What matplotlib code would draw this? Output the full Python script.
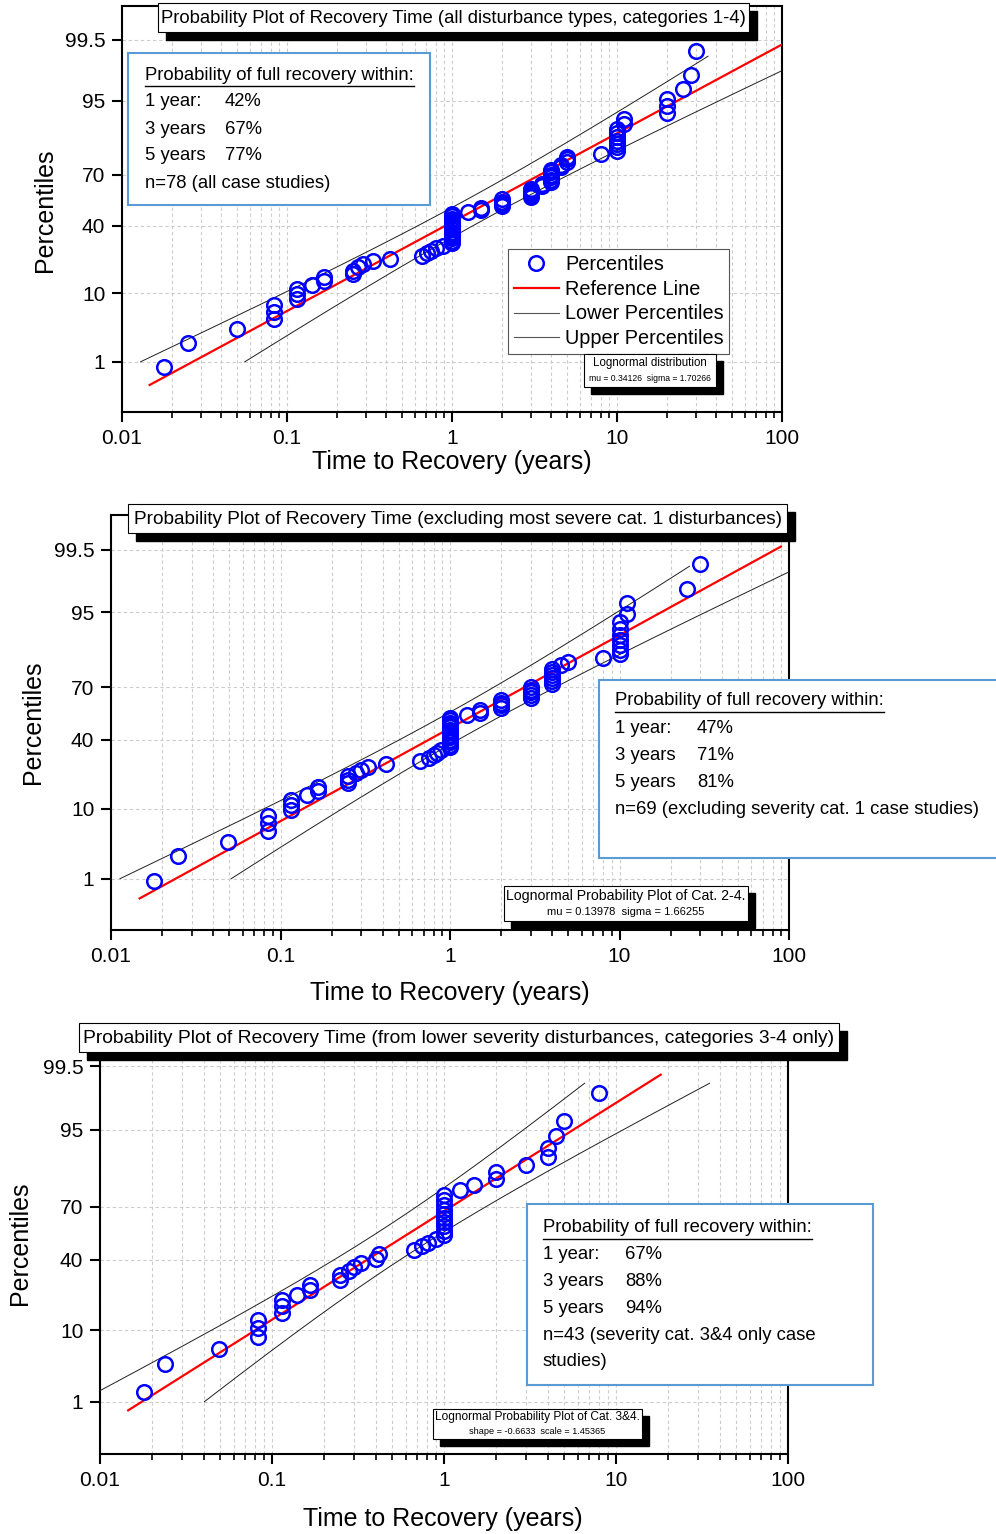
import math
from statistics import NormalDist
import numpy as np
import matplotlib
matplotlib.use('Agg')
import matplotlib.pyplot as plt
from matplotlib.patches import Rectangle
from matplotlib.lines import Line2D
from matplotlib.ticker import FixedLocator, FixedFormatter, LogLocator, NullFormatter

W, H = 996, 1534
ND = NormalDist()

# ---------------- data ----------------
# recovery times (years), panel 1: all case studies (n=78)
times_all = [0.018, 0.025, 0.05, 0.083, 0.083, 0.083, 0.115, 0.115, 0.115, 0.142,
             0.167, 0.167, 0.25, 0.25, 0.27, 0.29, 0.33, 0.42,
             0.66, 0.71, 0.75, 0.8, 0.88,
             1.0, 1.0, 1.0, 1.0, 1.0, 1.0, 1.0, 1.0, 1.0, 1.0, 1.0, 1.0, 1.0, 1.0,
             1.25, 1.5, 1.5, 2.0, 2.0, 2.0, 2.0, 3.0, 3.0, 3.0, 3.0, 3.0, 3.5, 3.5,
             4.0, 4.0, 4.0, 4.0, 4.0, 4.0, 4.6, 4.6, 5.0, 5.0, 5.0, 8.0,
             10.0, 10.0, 10.0, 10.0, 10.0, 10.0, 10.0, 11.0, 11.0,
             20.0, 20.0, 20.0, 25.0, 28.0, 30.0]
# panel 2: excluding severity cat. 1 (n=69)
times_cat24 = [0.018, 0.025, 0.049, 0.084, 0.084, 0.084, 0.116, 0.116, 0.116, 0.144,
               0.167, 0.167, 0.25, 0.25, 0.25, 0.28, 0.30, 0.33, 0.42,
               0.667, 0.75, 0.8, 0.84, 0.89,
               1.0, 1.0, 1.0, 1.0, 1.0, 1.0, 1.0, 1.0, 1.0, 1.0, 1.0, 1.0, 1.0,
               1.26, 1.5, 1.5, 2.0, 2.0, 2.0, 2.0, 3.0, 3.0, 3.0, 3.0, 3.0,
               4.0, 4.0, 4.0, 4.0, 4.0, 4.0, 4.5, 5.0, 8.0,
               10.0, 10.0, 10.0, 10.0, 10.0, 10.0, 10.0, 11.0, 11.0, 25.0, 30.0]
# panel 3: severity cat. 3 & 4 only (n=43)
times_cat34 = [0.018, 0.024, 0.049, 0.083, 0.083, 0.083, 0.115, 0.115, 0.115, 0.14,
               0.167, 0.167, 0.25, 0.25, 0.28, 0.30, 0.33, 0.40, 0.42,
               0.67, 0.74, 0.81, 0.90,
               1.0, 1.0, 1.0, 1.0, 1.0, 1.0, 1.0, 1.0, 1.0, 1.0,
               1.24, 1.5, 2.0, 2.0, 3.0, 4.0, 4.0, 4.5, 5.0, 8.0]

# fitted lognormal parameters (mu, sigma in ln units)
fit_mu = [0.34126, 0.13978, -0.6633]
fit_sigma = [1.70266, 1.66255, 1.45365]
# percentile range spanned by the reference line
ref_p_range = [(0.37, 99.63), (0.44, 99.56), (0.71, 99.29)]
# percentile range of the confidence (lower/upper percentile) curves
band_p_range = (1.0, 99.0)

titles = ["Probability Plot of Recovery Time (all disturbance types, categories 1-4)",
          "Probability Plot of Recovery Time (excluding most severe cat. 1 disturbances)",
          "Probability Plot of Recovery Time (from lower severity disturbances, categories 3-4 only)"]

info_years = ["1 year:", "3 years", "5 years"]
info_pcts = [["42%", "67%", "77%"], ["47%", "71%", "81%"], ["67%", "88%", "94%"]]
info_notes = [["n=78 (all case studies)"],
              ["n=69 (excluding severity cat. 1 case studies)"],
              ["n=43 (severity cat. 3&4 only case", "studies)"]]
fit_box_lines = [["Lognormal distribution", "mu = 0.34126  sigma = 1.70266"],
                 ["Lognormal Probability Plot of Cat. 2-4.", "mu = 0.13978  sigma = 1.66255"],
                 ["Lognormal Probability Plot of Cat. 3&4.", "shape = -0.6633  scale = 1.45365"]]

legend_labels = ["Percentiles", "Reference Line", "Lower Percentiles", "Upper Percentiles"]

y_ticks = [1, 10, 40, 70, 95, 99.5]
y_ticklabels = ["1", "10", "40", "70", "95", "99.5"]
x_ticks = [0.01, 0.1, 1, 10, 100]
x_ticklabels = ["0.01", "0.1", "1", "10", "100"]

# ---------------- helpers ----------------
def fwd(p):
    p = np.asarray(p, dtype=float)
    q = np.clip(p / 100.0, 1e-9, 1 - 1e-9)
    return np.array([ND.inv_cdf(float(v)) for v in q.ravel()]).reshape(q.shape)

def inv(z):
    z = np.asarray(z, dtype=float)
    return np.array([ND.cdf(float(v)) * 100.0 for v in z.ravel()]).reshape(z.shape)

def fx(x):
    return x / W

def fy(y):
    return 1 - y / H

plt.rcParams['font.family'] = ['Liberation Sans', 'DejaVu Sans']
NARROW = ['Liberation Sans Narrow', 'Liberation Sans', 'DejaVu Sans']

fig = plt.figure(figsize=(W / 100, H / 100), dpi=100)
fig.patch.set_facecolor('white')

# axes pixel boxes: left, right, top, bottom
ax_boxes = [(122, 782, 6, 412), (111, 789, 515, 930), (100, 788, 1031, 1454)]
xlabel_pos = [(452, 462), (450, 993), (443, 1519)]
ylabel_pos = [(45, 210), (33, 722), (20, 1243)]
title_boxes = [(158, 749, 3, 32), (128, 787, 504, 533), (79, 839, 1023, 1052)]
title_fs = [13.3, 13.7, 13.9]
info_boxes = [(128, 430, 53, 205), (599, 1010, 680, 858), (527, 873, 1204, 1385)]
info_x = [(145, 225), (615, 697), (543, 625)]
info_y0 = [75, 701, 1228]
info_dy = [27, 27.2, 26.8]
fit_boxes = [(584, 716, 354, 387), (504, 748, 886, 921), (433, 642, 1409, 1439)]
fit_fs = [(8.3, 6.2), (10.2, 8.0), (8.6, 6.6)]
HEAD_W = 270.0

all_times = [times_all, times_cat24, times_cat34]
axes = []
info_texts = []
heads = []
for k in range(3):
    l, r, t, b = ax_boxes[k]
    ax = fig.add_axes([fx(l), fy(b), (r - l) / W, (b - t) / H])
    axes.append(ax)
    ax.set_xscale('log')
    ax.set_yscale('function', functions=(fwd, inv))
    ax.set_xlim(0.01, 100)
    ax.set_ylim(0.1, 99.9)

    times = np.sort(np.array(all_times[k], dtype=float))
    n = len(times)
    ranks = np.arange(1, n + 1)
    pct = (ranks - 0.375) / (n + 0.25) * 100.0
    mu, sg = fit_mu[k], fit_sigma[k]

    # confidence curves
    pb = np.linspace(band_p_range[0], band_p_range[1], 300)
    zb = fwd(pb)
    half = 1.96 * sg * np.sqrt(1.0 / n + zb ** 2 / (2.0 * n))
    x_up = np.exp(mu + zb * sg - half)
    x_lo = np.exp(mu + zb * sg + half)
    ax.plot(x_lo, pb, color='#202020', lw=0.7, zorder=3)
    ax.plot(x_up, pb, color='#202020', lw=0.7, zorder=3)

    # reference line
    pr = np.linspace(ref_p_range[k][0], ref_p_range[k][1], 300)
    zr = fwd(pr)
    ax.plot(np.exp(mu + zr * sg), pr, color='red', lw=1.6, zorder=4)

    # data
    ax.plot(times, pct, linestyle='none', marker='o', ms=10.5, mfc='none',
            mec='#0000ff', mew=1.8, zorder=5)

    # ticks
    ax.yaxis.set_major_locator(FixedLocator(y_ticks))
    ax.yaxis.set_major_formatter(FixedFormatter(y_ticklabels))
    ax.yaxis.set_minor_locator(FixedLocator([]))
    ax.xaxis.set_major_locator(FixedLocator(x_ticks))
    ax.xaxis.set_major_formatter(FixedFormatter(x_ticklabels))
    ax.xaxis.set_minor_locator(LogLocator(base=10, subs=np.arange(2, 10)))
    ax.xaxis.set_minor_formatter(NullFormatter())
    ax.tick_params(axis='both', which='major', direction='out', length=7, width=1.5,
                   labelsize=15, pad=5, colors='black')
    ax.tick_params(axis='x', which='minor', direction='out', length=4, width=1.2)
    ax.tick_params(top=False, right=False, which='both')
    for s in ax.spines.values():
        s.set_linewidth(1.5)
        s.set_color('black')

    ax.grid(True, which='major', axis='both', color='#cccccc', ls=(0, (3, 2.5)), lw=0.8)
    ax.grid(True, which='minor', axis='x', color='#cccccc', ls=(0, (3, 2.5)), lw=0.8)
    ax.set_axisbelow(True)

    # axis labels
    fig.text(fx(xlabel_pos[k][0]), fy(xlabel_pos[k][1]), "Time to Recovery (years)",
             ha='center', va='center', fontsize=18)
    fig.text(fx(ylabel_pos[k][0]), fy(ylabel_pos[k][1]), "Percentiles",
             ha='center', va='center', fontsize=18, rotation=90)

    # title box with shadow
    tl, tr, tt, tb = title_boxes[k]
    sh = 8
    fig.patches.append(Rectangle((fx(tl + sh), fy(tb + sh)), (tr - tl) / W, (tb - tt) / H,
                                 transform=fig.transFigure, facecolor='black',
                                 edgecolor='black', zorder=10))
    fig.patches.append(Rectangle((fx(tl), fy(tb)), (tr - tl) / W, (tb - tt) / H,
                                 transform=fig.transFigure, facecolor='white',
                                 edgecolor='black', lw=0.8, zorder=11))
    fig.text(fx((tl + tr) / 2), fy((tt + tb) / 2 + 1), titles[k], ha='center', va='center',
             fontsize=title_fs[k], zorder=12)

    # info box
    il, ir, it, ib = info_boxes[k]
    fig.patches.append(Rectangle((fx(il), fy(ib)), (ir - il) / W, (ib - it) / H,
                                 transform=fig.transFigure, facecolor='white',
                                 edgecolor='#5b9bd5', lw=1.5, zorder=11))
    x0, x1 = info_x[k]
    y = info_y0[k]
    group = []
    head = fig.text(fx(x0), fy(y), "Probability of full recovery within:", ha='left',
                    va='center', fontsize=15, family=NARROW, zorder=12)
    group.append(head)
    lines_y = [y + info_dy[k] * (j + 1) for j in range(3)]
    for j in range(3):
        group.append(fig.text(fx(x0), fy(lines_y[j]), info_years[j], ha='left', va='center',
                              fontsize=15, family=NARROW, zorder=12))
        group.append(fig.text(fx(x1), fy(lines_y[j]), info_pcts[k][j], ha='left', va='center',
                              fontsize=15, family=NARROW, zorder=12))
    for j, note in enumerate(info_notes[k]):
        group.append(fig.text(fx(x0), fy(y + info_dy[k] * (4 + j)), note, ha='left',
                              va='center', fontsize=15, family=NARROW, zorder=12))
    info_texts.append(group)
    heads.append((head, y))

    # fit box with shadow
    bl, br, bt, bb = fit_boxes[k]
    fig.patches.append(Rectangle((fx(bl + 7), fy(bb + 7)), (br - bl) / W, (bb - bt) / H,
                                 transform=fig.transFigure, facecolor='black',
                                 edgecolor='black', zorder=10))
    fig.patches.append(Rectangle((fx(bl), fy(bb)), (br - bl) / W, (bb - bt) / H,
                                 transform=fig.transFigure, facecolor='white',
                                 edgecolor='black', lw=0.8, zorder=11))
    fig.text(fx((bl + br) / 2), fy(bt + (bb - bt) * 0.28), fit_box_lines[k][0],
             ha='center', va='center', fontsize=fit_fs[k][0], zorder=12)
    fig.text(fx((bl + br) / 2), fy(bt + (bb - bt) * 0.74), fit_box_lines[k][1],
             ha='center', va='center', fontsize=fit_fs[k][1], zorder=12)

# legend on panel 1
handles = [Line2D([], [], ls='none', marker='o', ms=10.5, mfc='none', mec='#0000ff', mew=1.8),
           Line2D([], [], color='red', lw=1.6),
           Line2D([], [], color='#555555', lw=0.8),
           Line2D([], [], color='#555555', lw=0.8)]
leg = fig.legend(handles, legend_labels, loc='upper left', bbox_to_anchor=(fx(508), fy(249)),
                 frameon=True, fancybox=False, framealpha=1, edgecolor='#555555',
                 fontsize=14.3, handlelength=2.3, handletextpad=0.3, borderpad=0.28,
                 labelspacing=0.3, borderaxespad=0)
leg.get_frame().set_linewidth(0.8)
leg.set_zorder(9)

# fit the info-box text to the reference width, then underline the headers
fig.canvas.draw()
renderer = fig.canvas.get_renderer()
for group, (head, y) in zip(info_texts, heads):
    w = head.get_window_extent(renderer).width
    s = 15 * HEAD_W / w
    for t in group:
        t.set_fontsize(min(15.5, s))
fig.canvas.draw()
for head, y in heads:
    bb = head.get_window_extent(renderer)
    yl = fy(y + 11)
    fig.add_artist(Line2D([bb.x0 / W, bb.x1 / W], [yl, yl], color='black', lw=1.0,
                          transform=fig.transFigure, zorder=12))

fig.savefig('out.png', dpi=100, facecolor='white')
